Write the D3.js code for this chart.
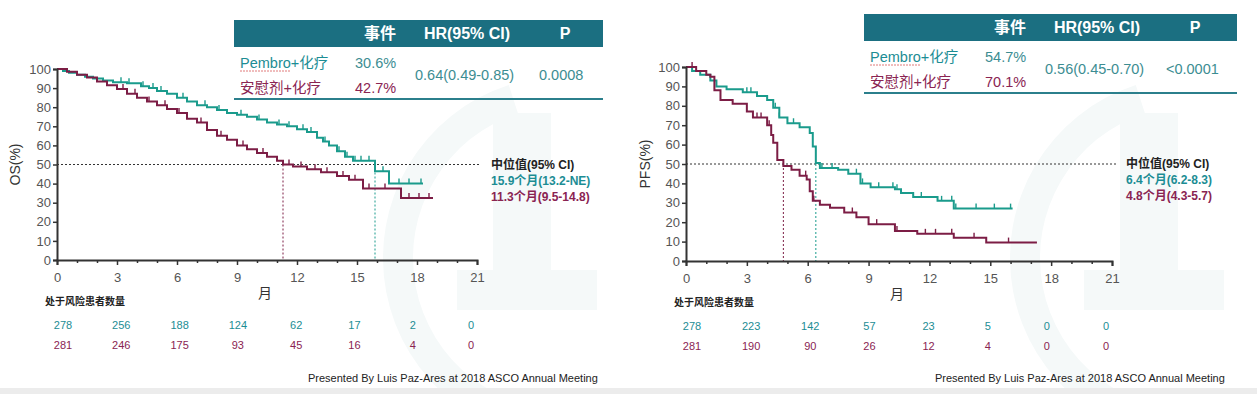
<!DOCTYPE html>
<html>
<head>
<meta charset="utf-8">
<script src="https://d3js.org/d3.v7.min.js"></script>
<style>
  body { margin: 0; background: #fff; }
  text { font-family: "Liberation Sans", Arial, "Noto Sans CJK SC", sans-serif; }
</style>
</head>
<body>
<script>
"use strict";

// ---- data ----
var months = [0, 3, 6, 9, 12, 15, 18, 21];
var yTicks = [0, 10, 20, 30, 40, 50, 60, 70, 80, 90, 100];
var groups = ["Pembro+化疗", "安慰剂+化疗"];

// OS panel
var osPembro = [[0,100],[0.3,99],[0.6,98],[1,97],[1.4,96],[1.8,95],[2.3,94],[2.8,93],[3.5,92.5],[4.2,91],[4.6,90],
  [5,88.5],[5.5,87],[6,85],[6.5,83],[7,81],[7.5,80],[8,78.5],[8.5,77],[9,76],[9.5,75],[10,73.5],[10.5,72],[11,71],
  [11.5,70],[12,68.5],[12.5,67],[13,64],[13.3,62],[13.6,60],[14,57],[14.4,54],[14.8,52],[15.9,46.5],[16.6,40],[18.3,40]];
var osPlacebo = [[0,100],[0.5,98.5],[1,97],[1.5,95.5],[2,93.5],[2.5,91.5],[3,89.5],[3.5,87],[4,85],[4.5,83],[5,81],[5.5,79],
  [6,77],[6.5,74],[7,72],[7.5,68],[8,65],[8.5,63],[9,60],[9.5,58],[10,56],[10.5,54],[11,52],[11.3,50],[11.8,49],
  [12.5,47.5],[13.2,46],[14,44],[14.6,42],[15.3,37.5],[17.2,32.5],[18.8,32.5]];
var osPembroCens = [3.2,3.6,4.3,4.8,5.2,6.3,7.4,8.1,9.2,10.1,11.1,11.6,12.3,12.7,13.4,14.1,14.5,14.9,15.2,15.6,16.3,17.1,17.6,18.2];
var osPlaceboCens = [3.3,3.9,4.6,5.4,6.1,7.2,8.2,9.3,10.3,11.6,12.2,12.9,13.5,14.3,14.9,15.6,16.4,17.6,18.1,18.6];
var osEvents = ["30.6%", "42.7%"];
var osHR = "0.64(0.49-0.85)";
var osP = "0.0008";
var osMedians = [15.9, 11.3];
var osMedianText = ["15.9个月(13.2-NE)", "11.3个月(9.5-14.8)"];
var osRiskPembro = [278, 256, 188, 124, 62, 17, 2, 0];
var osRiskPlacebo = [281, 246, 175, 93, 45, 16, 4, 0];

// PFS panel
var pfsPembro = [[0,100],[0.3,98],[0.7,96],[1.2,93],[1.5,90],[2,88.5],[2.8,87],[3.5,85],[4,83],[4.3,79],[4.6,74],
  [5,71],[5.6,69],[6.1,66],[6.25,59],[6.4,50.5],[6.6,48],[7.5,47],[8,45],[8.6,40],[9.1,38],[10.3,37],[10.6,35],
  [11.2,33],[12.4,31],[13.2,27],[16.1,27]];
var pfsPlacebo = [[0,100],[0.5,98],[1,96],[1.2,95],[1.4,88],[1.7,83],[2.3,81],[3,77],[3.3,74],[4,70],[4.2,65],
  [4.3,61],[4.5,52],[4.8,49],[5.2,47],[5.6,44],[5.95,42],[6.1,36],[6.25,31],[6.6,29],[7.1,27.5],[7.8,25],[8.4,22.5],
  [9,19],[10.3,15.5],[11.4,14],[13.2,12],[14.8,9.5],[17.3,9.5]];
var pfsPembroCens = [3.0,3.2,4.4,4.6,5.3,6.7,7.2,8.4,8.7,9.5,10.2,10.4,11.6,12.6,13.1,13.3,14.3,15.2,16.0];
var pfsPlaceboCens = [0.3,3.5,3.7,4.1,5.9,6.3,8.2,9.4,10.4,11.8,12.3,13.1,14.2,15.9];
var pfsEvents = ["54.7%", "70.1%"];
var pfsHR = "0.56(0.45-0.70)";
var pfsP = "<0.0001";
var pfsMedians = [6.4, 4.8];
var pfsMedianText = ["6.4个月(6.2-8.3)", "4.8个月(4.3-5.7)"];
var pfsRiskPembro = [278, 223, 142, 57, 23, 5, 0, 0];
var pfsRiskPlacebo = [281, 190, 90, 26, 12, 4, 0, 0];

var teal = "#1a9b8c", maroon = "#7c1d45";
var tealText = "#1c8d94", maroonText = "#8a2452";

var W = 1257, H = 394;
var svg = d3.select("body").append("svg").attr("width", W).attr("height", H);

// faint background watermark (logo ghost)
var wmArc = d3.arc().innerRadius(152).outerRadius(182).startAngle(Math.PI * 0.98).endAngle(Math.PI * 1.9);
[[565, 258], [1192, 258]].forEach(function (c) {
  var w = svg.append("g").attr("transform", "translate(" + c[0] + "," + c[1] + ")").attr("fill", "#f5f9f9");
  w.append("path").attr("d", wmArc);
  w.append("rect").attr("x", -72).attr("y", -145).attr("width", 58).attr("height", 195);
  w.append("rect").attr("x", -108).attr("y", 12).attr("width", 140).attr("height", 40);
});
svg.append("rect").attr("x", 0).attr("y", 388).attr("width", W).attr("height", 6).attr("fill", "#ececec");

function stepAt(curve, t) {
  var v = curve[0][1];
  curve.forEach(function (d) { if (d[0] <= t) v = d[1]; });
  return v;
}

function drawPanel(o) {
  var g = svg.append("g");
  var x = d3.scaleLinear().domain([0, 21]).range([o.x0, o.x1]);
  var y = d3.scaleLinear().domain([0, 100]).range([o.y0, o.y1]);

  // table
  var tb = g.append("g");
  tb.append("rect").attr("x", o.tx0).attr("y", o.ty).attr("width", o.tx1 - o.tx0).attr("height", 27).attr("fill", "#1b6f81");
  var hdr = [["事件", o.tx0 + 146], ["HR(95% CI)", o.tx0 + 233], ["P", o.tx0 + 331]];
  hdr.forEach(function (h) {
    tb.append("text").attr("x", h[1]).attr("y", o.ty + 19).attr("text-anchor", "middle")
      .attr("fill", "#fff").attr("font-weight", "bold").attr("font-size", 16).text(h[0]);
  });
  groups.forEach(function (name, i) {
    var yy = o.ty + 48 + i * 25;
    tb.append("text").attr("x", o.tx0 + 6).attr("y", yy).attr("font-size", 14.5)
      .attr("fill", i ? maroonText : tealText).text(name);
    tb.append("text").attr("x", o.tx0 + 121).attr("y", yy).attr("font-size", 14.5)
      .attr("fill", i ? maroonText : "#3c8d92").text(o.events[i]);
  });
  tb.append("line").attr("x1", o.tx0 + 6).attr("x2", o.tx0 + 56).attr("y1", o.ty + 51).attr("y2", o.ty + 51)
    .attr("stroke", "#e07a7a").attr("stroke-width", 1).attr("stroke-dasharray", "2,1");
  tb.append("text").attr("x", o.tx0 + 181).attr("y", o.ty + 60).attr("font-size", 14.5).attr("fill", "#3c8d92").text(o.hr);
  tb.append("text").attr("x", o.tx0 + o.pOff).attr("y", o.ty + 60).attr("font-size", 14.5).attr("fill", "#3c8d92").text(o.p);
  tb.append("line").attr("x1", o.tx0).attr("x2", o.tx1).attr("y1", o.ty + 79).attr("y2", o.ty + 79)
    .attr("stroke", "#2b7f8c").attr("stroke-width", 2);

  // median reference lines
  g.append("line").attr("x1", x(0)).attr("x2", x(21) + 4).attr("y1", y(50)).attr("y2", y(50))
    .attr("stroke", "#333").attr("stroke-width", 1).attr("stroke-dasharray", "2,2");
  o.medians.forEach(function (m, i) {
    g.append("line").attr("x1", x(m)).attr("x2", x(m)).attr("y1", y(50)).attr("y2", y(0))
      .attr("stroke", i ? maroon : teal).attr("stroke-width", 1).attr("stroke-dasharray", "2,2");
  });

  // curves
  var line = d3.line().x(function (d) { return x(d[0]); }).y(function (d) { return y(d[1]); }).curve(d3.curveStepAfter);
  [[o.pembro, o.pembroCens, teal], [o.placebo, o.placeboCens, maroon]].forEach(function (s) {
    g.append("path").datum(s[0]).attr("d", line).attr("fill", "none").attr("stroke", s[2]).attr("stroke-width", 2);
    g.selectAll(null).data(s[1]).enter().append("line")
      .attr("x1", function (t) { return x(t); }).attr("x2", function (t) { return x(t); })
      .attr("y1", function (t) { return y(stepAt(s[0], t)); })
      .attr("y2", function (t) { return y(stepAt(s[0], t)) - 5; })
      .attr("stroke", s[2]).attr("stroke-width", 1.4);
  });

  // axes
  var ya = g.append("g").attr("transform", "translate(" + o.x0 + ",0)")
    .call(d3.axisLeft(y).tickValues(yTicks).tickSize(4).tickPadding(2));
  var xa = g.append("g").attr("transform", "translate(0," + o.y0 + ")")
    .call(d3.axisBottom(x).tickValues(months).tickSize(5).tickPadding(8));
  g.append("g").attr("transform", "translate(0," + o.y0 + ")")
    .call(d3.axisBottom(x).tickValues(d3.range(1, 21).filter(function (v) { return v % 3; })).tickSize(3).tickFormat(""))
    .call(function (a) { a.select(".domain").remove(); });
  g.selectAll(".domain").attr("stroke", "#333").attr("stroke-width", 2);
  g.selectAll(".tick line").attr("stroke", "#333").attr("stroke-width", 1.5);
  ya.selectAll("text").attr("font-size", 13).attr("fill", "#555").style("font-family", "Liberation Sans, Arial");
  xa.selectAll("text").attr("font-size", 13).attr("fill", "#555").style("font-family", "Liberation Sans, Arial");

  g.append("text").attr("transform", "translate(" + o.ylx + "," + y(50) + ") rotate(-90)")
    .attr("text-anchor", "middle").attr("font-size", 14).attr("fill", "#333").text(o.ylabel);
  g.append("text").attr("x", x(10.4)).attr("y", o.y0 + 38).attr("text-anchor", "middle")
    .attr("font-size", 14).attr("fill", "#333").text("月");

  // medians text
  var mx = x(21) + 14;
  g.append("text").attr("x", mx).attr("y", y(50) + 4).attr("font-size", 12).attr("font-weight", "bold")
    .attr("fill", "#222").text("中位值(95% CI)");
  o.medianText.forEach(function (t, i) {
    g.append("text").attr("x", mx).attr("y", y(50) + 20 + i * 16).attr("font-size", 12).attr("font-weight", "bold")
      .attr("fill", i ? maroonText : tealText).text(t);
  });

  // number at risk
  g.append("text").attr("x", o.x0 - 12).attr("y", o.y0 + 45).attr("font-size", 10).attr("font-weight", "bold")
    .attr("fill", "#222").text("处于风险患者数量");
  var rx = d3.scaleLinear().domain([0, 21]).range([o.x0 + 6, o.x1 - 6]);
  [[o.riskA, tealText], [o.riskB, maroonText]].forEach(function (r, i) {
    g.selectAll(null).data(r[0]).enter().append("text")
      .attr("x", function (d, j) { return rx(months[j]); })
      .attr("y", o.y0 + 69 + i * 20).attr("text-anchor", "middle")
      .attr("font-size", 11).attr("fill", r[1]).text(function (d) { return d; });
  });

  g.append("text").attr("x", o.footX).attr("y", 382).attr("font-size", 11).attr("fill", "#222")
    .text("Presented By Luis Paz-Ares at 2018 ASCO Annual Meeting");
}

drawPanel({
  x0: 57, x1: 477, y0: 260, y1: 69, tx0: 234, tx1: 603, ty: 20, pOff: 305,
  pembro: osPembro, placebo: osPlacebo, pembroCens: osPembroCens, placeboCens: osPlaceboCens,
  events: osEvents, hr: osHR, p: osP, medians: osMedians, medianText: osMedianText,
  riskA: osRiskPembro, riskB: osRiskPlacebo, ylabel: "OS(%)", ylx: 20, footX: 308
});
drawPanel({
  x0: 686, x1: 1112, y0: 261, y1: 67, tx0: 864, tx1: 1237, ty: 14, pOff: 302,
  pembro: pfsPembro, placebo: pfsPlacebo, pembroCens: pfsPembroCens, placeboCens: pfsPlaceboCens,
  events: pfsEvents, hr: pfsHR, p: pfsP, medians: pfsMedians, medianText: pfsMedianText,
  riskA: pfsRiskPembro, riskB: pfsRiskPlacebo, ylabel: "PFS(%)", ylx: 650, footX: 935
});
</script>
</body>
</html>
